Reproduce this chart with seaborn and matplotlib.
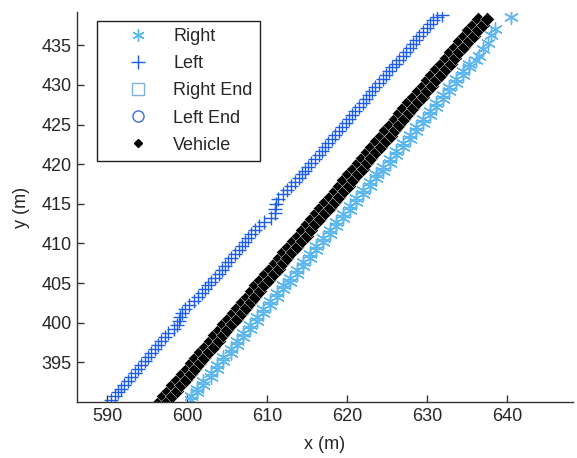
import matplotlib
matplotlib.use("Agg")
import matplotlib.pyplot as plt
from matplotlib.lines import Line2D
import seaborn as sns

# 차선 좌표 (m) - 그림에서 읽은 값
LEFT_X = [590.5, 590.9, 591.3, 591.7, 592.1, 592.6, 593.0, 593.4, 593.8, 594.2,
          594.7, 595.1, 595.5, 595.9, 596.3, 596.7, 597.2, 597.6, 598.3, 598.7,
          599.0, 599.1, 599.3, 599.7, 600.2, 600.8, 601.3, 601.8, 602.2, 602.6,
          603.0, 603.4, 603.9, 604.3, 604.7, 605.1, 605.5, 606.0, 606.4, 606.8,
          607.2, 607.6, 608.0, 608.5, 609.0, 609.6, 610.4, 611.0, 611.0, 611.1,
          611.3, 612.0, 612.5, 613.0, 613.4, 613.9, 614.3, 614.7, 615.1, 615.5,
          615.9, 616.4, 616.8, 617.2, 617.6, 618.1, 618.5, 618.9, 619.3, 619.8,
          620.2, 620.6, 621.0, 621.4, 621.9, 622.3, 622.7, 623.1, 623.5, 624.0,
          624.4, 624.8, 625.2, 625.6, 626.1, 626.5, 626.9, 627.3, 627.8, 628.2,
          628.6, 629.0, 629.4, 629.9, 630.3, 630.7, 631.2, 631.8]
LEFT_Y = [390.2, 390.7, 391.2, 391.7, 392.2, 392.7, 393.2, 393.7, 394.2, 394.7,
          395.2, 395.7, 396.2, 396.7, 397.2, 397.7, 398.2, 398.7, 399.2, 399.7,
          400.2, 400.7, 401.2, 401.7, 402.2, 402.7, 403.2, 403.7, 404.2, 404.7,
          405.2, 405.7, 406.2, 406.7, 407.2, 407.7, 408.2, 408.7, 409.2, 409.7,
          410.2, 410.7, 411.2, 411.7, 412.2, 412.7, 413.2, 413.8, 414.4, 415.0,
          415.6, 416.2, 416.7, 417.2, 417.7, 418.2, 418.7, 419.2, 419.7, 420.2,
          420.7, 421.2, 421.7, 422.2, 422.7, 423.2, 423.7, 424.2, 424.7, 425.2,
          425.7, 426.2, 426.7, 427.2, 427.7, 428.2, 428.7, 429.2, 429.7, 430.2,
          430.7, 431.2, 431.7, 432.2, 432.7, 433.2, 433.7, 434.2, 434.7, 435.2,
          435.7, 436.2, 436.7, 437.2, 437.7, 438.2, 438.6, 438.8]

RIGHT_X = [600.4, 600.4, 601.2, 601.2, 602.0, 602.0, 602.9, 602.9, 603.7, 603.7,
           604.5, 604.5, 605.4, 605.4, 606.2, 606.2, 607.0, 607.0, 607.8, 607.8,
           608.7, 608.7, 609.5, 609.5, 610.3, 610.3, 611.2, 611.2, 612.0, 612.0,
           612.8, 612.8, 613.7, 613.7, 614.5, 614.5, 615.3, 615.3, 616.1, 616.1,
           617.0, 617.0, 617.8, 617.8, 618.6, 618.6, 619.5, 619.5, 620.3, 620.3,
           621.1, 621.1, 622.0, 622.0, 622.8, 622.8, 623.6, 623.6, 624.4, 624.4,
           625.3, 625.3, 626.1, 626.1, 626.9, 626.9, 627.8, 627.8, 628.6, 628.6,
           629.4, 629.4, 630.3, 630.3, 631.1, 631.1, 631.9, 631.9, 632.7, 632.7,
           633.6, 633.6, 634.4, 634.4, 635.2, 635.2, 636.1, 636.5, 637.0, 637.6,
           638.0, 638.4, 640.5]
RIGHT_Y = [390.2, 390.7, 391.2, 391.7, 392.2, 392.7, 393.2, 393.7, 394.2, 394.7,
           395.2, 395.7, 396.2, 396.7, 397.2, 397.7, 398.2, 398.7, 399.2, 399.7,
           400.2, 400.7, 401.2, 401.7, 402.2, 402.7, 403.2, 403.7, 404.2, 404.7,
           405.2, 405.7, 406.2, 406.7, 407.2, 407.7, 408.2, 408.7, 409.2, 409.7,
           410.2, 410.7, 411.2, 411.7, 412.2, 412.7, 413.2, 413.7, 414.2, 414.7,
           415.2, 415.7, 416.2, 416.7, 417.2, 417.7, 418.2, 418.7, 419.2, 419.7,
           420.2, 420.7, 421.2, 421.7, 422.2, 422.7, 423.2, 423.7, 424.2, 424.7,
           425.2, 425.7, 426.2, 426.7, 427.2, 427.7, 428.2, 428.7, 429.2, 429.7,
           430.2, 430.7, 431.2, 431.7, 432.2, 432.7, 433.2, 433.7, 434.5, 435.3,
           436.3, 437.1, 438.6]

# 차량 궤적 (두 줄)
VEH_Y = [390.0, 390.7, 391.4, 392.1, 392.8, 393.5, 394.2, 394.9, 395.6, 396.3,
         397.0, 397.7, 398.4, 399.1, 399.8, 400.5, 401.2, 401.9, 402.6, 403.3,
         404.0, 404.7, 405.4, 406.1, 406.8, 407.5, 408.2, 408.9, 409.6, 410.3,
         411.0, 411.7, 412.4, 413.1, 413.8, 414.5, 415.2, 415.9, 416.6, 417.3,
         418.0, 418.7, 419.4, 420.1, 420.8, 421.5, 422.2, 422.9, 423.6, 424.3,
         425.0, 425.7, 426.4, 427.1, 427.8, 428.5, 429.2, 429.9, 430.6, 431.3,
         432.0, 432.7, 433.4, 434.1, 434.8, 435.5, 436.2, 436.9, 437.6, 438.3]
VEH_X1 = [596.4, 597.0, 597.6, 598.1, 598.7, 599.3, 599.9, 600.5, 601.0, 601.6,
          602.2, 602.8, 603.3, 603.9, 604.5, 605.1, 605.7, 606.2, 606.8, 607.4,
          608.0, 608.5, 609.1, 609.7, 610.3, 610.9, 611.4, 612.0, 612.6, 613.2,
          613.8, 614.3, 614.9, 615.5, 616.1, 616.6, 617.2, 617.8, 618.4, 619.0,
          619.5, 620.1, 620.7, 621.3, 621.8, 622.4, 623.0, 623.6, 624.2, 624.7,
          625.3, 625.9, 626.5, 627.0, 627.6, 628.2, 628.8, 629.4, 629.9, 630.5,
          631.1, 631.7, 632.3, 632.8, 633.4, 634.0, 634.6, 635.1, 635.7, 636.3]
VEH_X2 = [597.5, 598.1, 598.7, 599.2, 599.8, 600.4, 601.0, 601.6, 602.1, 602.7,
          603.3, 603.9, 604.4, 605.0, 605.6, 606.2, 606.8, 607.3, 607.9, 608.5,
          609.1, 609.6, 610.2, 610.8, 611.4, 612.0, 612.5, 613.1, 613.7, 614.3,
          614.9, 615.4, 616.0, 616.6, 617.2, 617.8, 618.4, 619.0, 619.6, 620.2,
          620.7, 621.3, 621.9, 622.5, 623.0, 623.6, 624.2, 624.8, 625.4, 625.9,
          626.5, 627.1, 627.7, 628.2, 628.8, 629.4, 630.0, 630.6, 631.1, 631.7,
          632.3, 632.9, 633.5, 634.0, 634.6, 635.2, 635.8, 636.3, 636.9, 637.5]

X_TICKS = [590, 600, 610, 620, 630, 640]
Y_TICKS = [395, 400, 405, 410, 415, 420, 425, 430, 435]
LEGEND_LABELS = ["Right", "Left", "Right End", "Left End", "Vehicle"]

C_RIGHT = "#5ab6f0"
C_LEFT = "#1c5ce6"
C_RIGHT_END = "#7fb2d8"
C_LEFT_END = "#3a6fd4"
TEXT = "#262626"
FS = 13

sns.set_theme(style="ticks")
plt.rcParams["font.family"] = ["Liberation Sans", "DejaVu Sans"]

fig = plt.figure(figsize=(5.77, 4.58), dpi=100)
ax = fig.add_axes([0.1334, 0.1223, 0.8596, 0.8515])

asterisk = (6, 2, 0)
sns.scatterplot(x=RIGHT_X, y=RIGHT_Y, marker=asterisk, color=C_RIGHT, s=100,
                linewidth=1.0, ax=ax)
sns.scatterplot(x=LEFT_X, y=LEFT_Y, marker="+", color=C_LEFT, s=105,
                linewidth=1.0, ax=ax)
for vx in (VEH_X1, VEH_X2):
    sns.scatterplot(x=vx, y=VEH_Y, marker="D", color="black", s=52,
                    edgecolor="white", linewidth=0.3, ax=ax)

ax.set_xlim(586.2, 648.2)
ax.set_ylim(390.0, 439.2)
ax.set_xticks(X_TICKS)
ax.set_yticks(Y_TICKS)
ax.tick_params(direction="in", length=5, width=1, colors="#333333",
               labelsize=FS, labelcolor=TEXT, pad=4)
sns.despine(ax=ax, top=True, right=True)
for side in ("left", "bottom"):
    ax.spines[side].set_color("#333333")
    ax.spines[side].set_linewidth(1.0)

ax.set_xlabel("x (m)", fontsize=FS, color=TEXT, labelpad=8)
ax.set_ylabel("y (m)", fontsize=FS, color=TEXT, labelpad=8)

handles = [
    Line2D([], [], ls="none", marker=asterisk, ms=9, mew=1.0, color=C_RIGHT),
    Line2D([], [], ls="none", marker="+", ms=10, mew=1.0, color=C_LEFT),
    Line2D([], [], ls="none", marker="s", ms=8, mew=1.0, mfc="none", mec=C_RIGHT_END),
    Line2D([], [], ls="none", marker="o", ms=8, mew=1.0, mfc="none", mec=C_LEFT_END),
    Line2D([], [], ls="none", marker="D", ms=4, color="black"),
]
leg = ax.legend(handles, LEGEND_LABELS, loc="upper left",
                bbox_to_anchor=(0.040, 0.977), borderaxespad=0,
                fontsize=FS, handlelength=3.75, handletextpad=0.07,
                labelspacing=0.56, borderpad=0.4, fancybox=False,
                framealpha=1, edgecolor="#222222")
leg.get_frame().set_linewidth(1.0)
for t in leg.get_texts():
    t.set_color(TEXT)

fig.savefig("out.png", dpi=100)
